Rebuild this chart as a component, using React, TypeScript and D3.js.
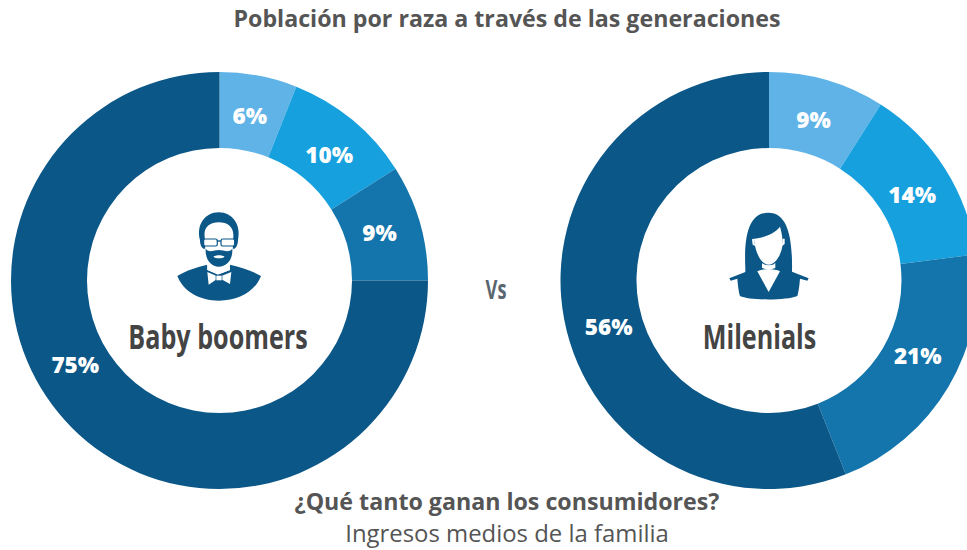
import * as d3 from 'd3'

const boomerValues = [6, 10, 9, 75]
const milenialValues = [9, 14, 21, 56]
// where the labels sit, in percent around the ring (the big ones aren't on the slice middle)
const boomerLabelAt = [2.9, 11.4, 20.4, 66.6]
const milenialLabelAt = [4.3, 16.4, 32.5, 70.5]
const colors = ['#60b3e7', '#17a0de', '#1375ab', '#0b5788']

const W = 967
const H = 550
const outerR = 208.5
const innerR = 132.5
const labelR = 167
const TEXT = '#555'
const FONT = '"Open Sans", sans-serif'

const pie = d3.pie<number>().sort(null).value(d => d)
const arc = d3.arc<d3.PieArcDatum<number>>().innerRadius(innerR).outerRadius(outerR)
const labelArc = d3.arc<any>().innerRadius(labelR).outerRadius(labelR)
const turn = d3.scaleLinear().domain([0, 100]).range([0, 2 * Math.PI])

function Donut({ cx, values, labelAt, name, nameX, children }: any) {
  return (
    <g transform={`translate(${cx},280.5)`}>
      {pie(values).map((s, i) => (
        <path key={i} d={arc(s) ?? ''} fill={colors[i]} />
      ))}
      {values.map((v: number, i: number) => {
        const [x, y] = labelArc.centroid({ startAngle: turn(labelAt[i]), endAngle: turn(labelAt[i]) })
        return (
          <text key={i} x={x} y={y} dy="0.36em" textAnchor="middle" fill="#fff" fontSize={22.5} fontWeight={800} fontFamily={FONT}>
            {v}%
          </text>
        )
      })}
      {children}
      <text transform={`translate(${nameX},68) scale(0.74,1)`} textAnchor="middle" fill="#444" fontSize={34} fontWeight={700} fontFamily={FONT}>
        {name}
      </text>
    </g>
  )
}

// icons traced at 3x, origin at the crop corner
function ManIcon() {
  const blue = colors[3]
  return (
    <g transform="translate(-69.5,-90.5) scale(0.3333)">
      <path d="M82,258 C110,240 140,232 172,224 L172,240 L204,254 L240,240 L240,224 C275,232 305,242 333,258 C315,305 265,332 207,332 C150,332 100,305 82,258Z" fill={blue} />
      <path d="M172,246 L200,258 L214,258 L244,246 L240,282 L214,268 L200,268 L176,284Z" fill="#fff" />
      <path d="M198,256 H216 V272 H198Z" fill="#fff" stroke={blue} strokeWidth={2} />
      <path d="M172,215 L240,215 L240,240 L206,252 L172,240Z" fill="#fff" />
      <path d="M150,150 C138,105 165,67 206,67 C248,67 274,105 264,150 C264,165 258,172 254,176 L160,176 C155,172 150,165 150,150Z" fill={blue} />
      <path d="M164,140 C160,112 180,97 206,97 C234,97 252,112 250,140 L248,186 C240,215 222,230 206,230 C190,230 172,215 166,186Z" fill="#fff" />
      <path d="M167,176 C178,190 192,180 206,180 C222,180 236,190 247,176 C249,210 230,230 206,230 C184,230 165,210 167,176Z M190,200 C198,194 216,194 224,200 C216,206 198,206 190,200Z" fill={blue} fillRule="evenodd" />
      <rect x={161} y={147} width={41} height={21} rx={5} fill="#fff" stroke={blue} strokeWidth={3.5} />
      <rect x={213} y={147} width={41} height={21} rx={5} fill="#fff" stroke={blue} strokeWidth={3.5} />
      <path d="M200,153 H214" stroke={blue} strokeWidth={4} />
    </g>
  )
}

function WomanIcon() {
  const blue = colors[3]
  return (
    <g transform="translate(-69,-90.5) scale(0.3333)">
      <path d="M136,235 C132,150 142,68 205,68 C266,68 278,150 276,248 L136,248Z" fill={blue} />
      <path d="M88,265 L136,246 L172,232 L240,232 L278,246 L326,265 L322,272 L300,266 C298,290 296,305 292,318 C260,332 150,332 120,318 C116,305 114,290 112,266 L92,272Z" fill={blue} />
      <path d="M172,244 C185,236 225,236 240,244 L206,306Z" fill="#fff" />
      <path d="M186,218 C190,228 222,228 226,218 L226,234 L206,240 L186,234Z" fill="#fff" />
      <path d="M162,146 C190,144 225,130 240,110 C246,130 248,145 248,160 C246,195 225,224 206,224 C184,224 166,190 162,146Z" fill="#fff" />
      <path d="M156,148 L162,146 L165,168 L158,164Z M254,146 L248,146 L246,168 L254,162Z" fill="#fff" />
    </g>
  )
}

export default function App() {
  return (
    <svg width={W} height={H} style={{ position: 'absolute', left: 0, top: 0, display: 'block' }}>
      <rect width={W} height={H} fill="#fff" />
      <text x={507} y={27} textAnchor="middle" fill={TEXT} fontSize={23.2} fontWeight={700} fontFamily={FONT}>
        Población por raza a través de las generaciones
      </text>
      <Donut cx={219.5} values={boomerValues} labelAt={boomerLabelAt} name="Baby boomers" nameX={-1.5}>
        <ManIcon />
      </Donut>
      <Donut cx={769} values={milenialValues} labelAt={milenialLabelAt} name="Milenials" nameX={-9.5}>
        <WomanIcon />
      </Donut>
      <text transform="translate(496,299) scale(0.7,1)" textAnchor="middle" fill="#5a6670" fontSize={26} fontWeight={700} fontFamily={FONT}>
        Vs
      </text>
      <text x={507} y={510} textAnchor="middle" fill={TEXT} fontSize={23.2} fontWeight={700} fontFamily={FONT}>
        ¿Qué tanto ganan los consumidores?
      </text>
      <text x={507} y={542} textAnchor="middle" fill={TEXT} fontSize={23.9} fontFamily={FONT}>
        Ingresos medios de la familia
      </text>
    </svg>
  )
}
